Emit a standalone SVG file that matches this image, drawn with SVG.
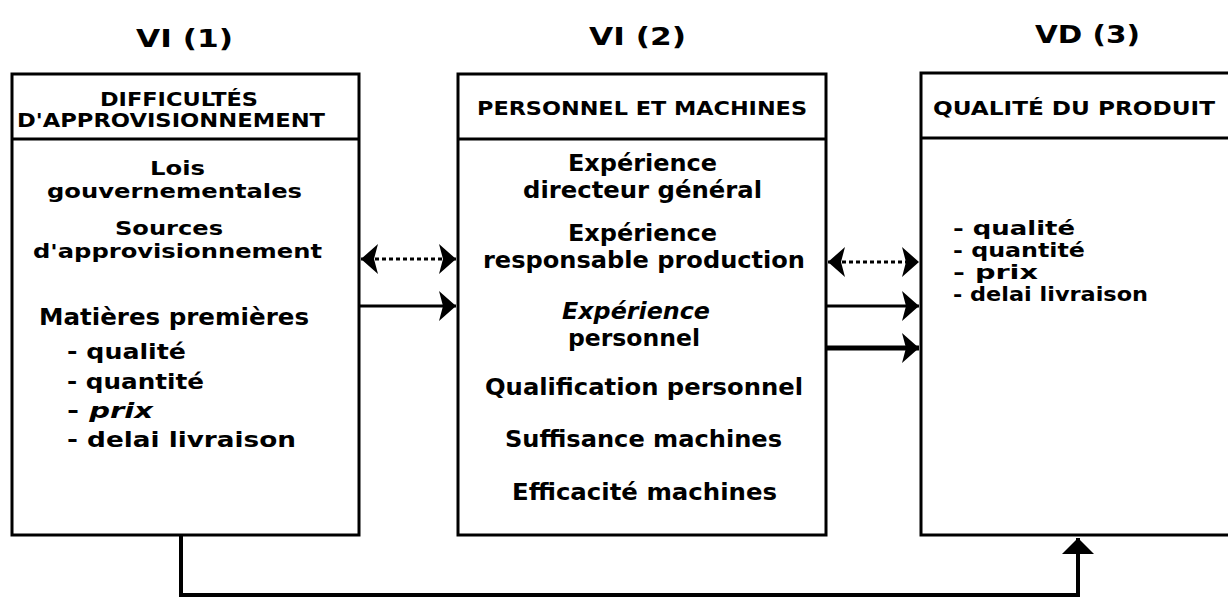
<svg xmlns="http://www.w3.org/2000/svg" width="1228" height="599" viewBox="0 0 1228 599">
<style>
.box{fill:#fff;stroke:#000;stroke-width:3}
.t{font-family:"DejaVu Sans","Liberation Sans",sans-serif;font-weight:bold;fill:#000}
.h{font-size:19px}
.b{font-size:23px}
.bs{font-size:20px}
.l{font-size:22px}
.ls{font-size:19px}
.ti{font-size:25px}
.conn{stroke:#000;stroke-width:3;fill:none}
.dot{stroke-dasharray:4 3}
.it{font-style:italic}
</style>
<defs>
<marker id="ah" viewBox="-18 -16 19 32" refX="0" refY="0" markerWidth="19" markerHeight="32" markerUnits="userSpaceOnUse" orient="auto-start-reverse">
<path d="M0,0 L-17,-15 L-13,0 L-17,15 Z" fill="#000"/>
</marker>
<marker id="up" viewBox="-17 -1 34 18" refX="0" refY="0" markerWidth="34" markerHeight="18" markerUnits="userSpaceOnUse" orient="0">
<path d="M0,0 L16,16 L-16,16 Z" fill="#000"/>
</marker>
</defs>
<rect width="1228" height="599" fill="#fff"/>
<g id="titles" class="t ti">
<text x="136" y="47" textLength="97" lengthAdjust="spacingAndGlyphs">VI (1)</text>
<text x="589" y="45" textLength="97" lengthAdjust="spacingAndGlyphs">VI (2)</text>
<text x="1035" y="43" textLength="105" lengthAdjust="spacingAndGlyphs">VD (3)</text>
</g>
<g id="connectors">
<line class="conn dot" x1="361" y1="259" x2="456" y2="259" marker-start="url(#ah)" marker-end="url(#ah)"/>
<line class="conn" x1="360" y1="306" x2="456" y2="306" marker-end="url(#ah)"/>
<line class="conn dot" x1="828" y1="262" x2="919" y2="262" marker-start="url(#ah)" marker-end="url(#ah)"/>
<line class="conn" x1="827" y1="306" x2="919" y2="306" marker-end="url(#ah)"/>
<line class="conn" style="stroke-width:5" x1="827" y1="348" x2="919" y2="348" marker-end="url(#ah)"/>
<path class="conn" style="stroke-width:4" d="M181,536 V595 H1078 V538" marker-end="url(#up)"/>
</g>
<g id="node-vi1">
<rect class="box" x="12" y="74" width="347" height="461"/>
<line class="conn" x1="12" y1="139" x2="359" y2="139"/>
<g class="t h">
<text x="100" y="106" textLength="158" lengthAdjust="spacingAndGlyphs">DIFFICULTÉS</text>
<text x="17" y="127" textLength="308" lengthAdjust="spacingAndGlyphs">D'APPROVISIONNEMENT</text>
</g>
<g class="t bs">
<text x="150" y="175" textLength="55" lengthAdjust="spacingAndGlyphs">Lois</text>
<text x="47" y="198" textLength="255" lengthAdjust="spacingAndGlyphs">gouvernementales</text>
<text x="115" y="235" textLength="108" lengthAdjust="spacingAndGlyphs">Sources</text>
<text x="33" y="258" textLength="289" lengthAdjust="spacingAndGlyphs">d'approvisionnement</text>
</g>
<g class="t b">
<text x="39" y="325" textLength="270" lengthAdjust="spacingAndGlyphs">Matières premières</text>
</g>
<g class="t l">
<text x="67" y="359" textLength="119" lengthAdjust="spacingAndGlyphs">- qualité</text>
<text x="67" y="389" textLength="137" lengthAdjust="spacingAndGlyphs">- quantité</text>
<text x="67" y="418" textLength="86" lengthAdjust="spacingAndGlyphs">- <tspan class="it">prix</tspan></text>
<text x="67" y="447" textLength="229" lengthAdjust="spacingAndGlyphs">- delai livraison</text>
</g>
</g>
<g id="node-vi2">
<rect class="box" x="458" y="74" width="368" height="461"/>
<line class="conn" x1="458" y1="139" x2="826" y2="139"/>
<text class="t h" x="477" y="115" textLength="330" lengthAdjust="spacingAndGlyphs">PERSONNEL ET MACHINES</text>
<g class="t b">
<text x="568" y="171" textLength="149" lengthAdjust="spacingAndGlyphs">Expérience</text>
<text x="523" y="198" textLength="239" lengthAdjust="spacingAndGlyphs">directeur général</text>
<text x="568" y="241" textLength="149" lengthAdjust="spacingAndGlyphs">Expérience</text>
<text x="483" y="268" textLength="322" lengthAdjust="spacingAndGlyphs">responsable production</text>
<text class="it" x="562" y="319" textLength="148" lengthAdjust="spacingAndGlyphs">Expérience</text>
<text x="568" y="346" textLength="132" lengthAdjust="spacingAndGlyphs">personnel</text>
<text x="485" y="395" textLength="318" lengthAdjust="spacingAndGlyphs">Qualification personnel</text>
<text x="505" y="447" textLength="277" lengthAdjust="spacingAndGlyphs">Suffisance machines</text>
<text x="512" y="500" textLength="265" lengthAdjust="spacingAndGlyphs">Efficacité machines</text>
</g>
</g>
<g id="node-vd3">
<rect class="box" x="921" y="73" width="320" height="462"/>
<line class="conn" x1="921" y1="138" x2="1228" y2="138"/>
<text class="t h" x="933" y="115" textLength="282" lengthAdjust="spacingAndGlyphs">QUALITÉ DU PRODUIT</text>
<g class="t ls">
<text x="953" y="235" textLength="122" lengthAdjust="spacingAndGlyphs">- qualité</text>
<text x="953" y="257" textLength="132" lengthAdjust="spacingAndGlyphs">- quantité</text>
<text x="953" y="279" textLength="85" lengthAdjust="spacingAndGlyphs">- prix</text>
<text x="953" y="301" textLength="195" lengthAdjust="spacingAndGlyphs">- delai livraison</text>
</g>
</g>
</svg>
